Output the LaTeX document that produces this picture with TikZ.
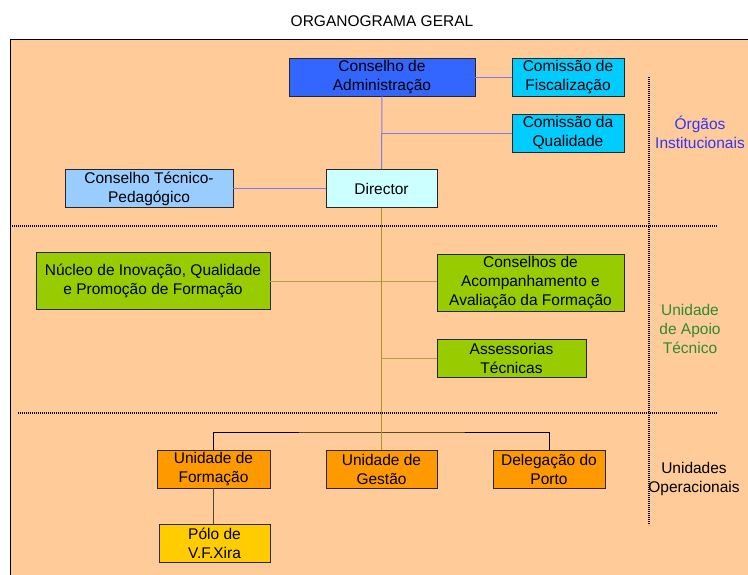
\documentclass[tikz,border=0pt]{standalone}
\usepackage{fontspec}
\setmainfont{Liberation Sans}
\usepackage{tikz}
\usetikzlibrary{positioning}

\definecolor{peach}{HTML}{FFCC99}
\definecolor{admblue}{HTML}{3366FF}
\definecolor{comblue}{HTML}{00CCFF}
\definecolor{ctpblue}{HTML}{99CCFF}
\definecolor{dirblue}{HTML}{CCFFFF}
\definecolor{apoiogreen}{HTML}{99CC00}
\definecolor{unitorange}{HTML}{FF9900}
\definecolor{poloyellow}{HTML}{FFCC00}
\definecolor{bluelink}{HTML}{7B7BF0}
\definecolor{olivelink}{HTML}{A09A20}
\definecolor{tanlink}{HTML}{B8A040}
\definecolor{grouplabelblue}{HTML}{3333FF}
\definecolor{grouplabelgreen}{HTML}{2E8B2E}

\begin{document}
\begin{tikzpicture}[x=1pt, y=-1pt, font=\fontsize{15.5}{19}\selectfont,
    box/.style={draw=black!85, line width=0.8pt, align=center, inner sep=0pt, minimum height=38pt},
    tallbox/.style={box, minimum height=57pt},
    grouplabel/.style={align=center, inner sep=0pt},
    sepline/.style={dash pattern=on 1.2pt off 0.8pt, line width=2pt},
    link/.style={line width=1pt}]

    \clip (0,0) rectangle (748,574);
    \useasboundingbox (0,0) rectangle (748,574);

    %Background
    \node[grouplabel] (title) at (382,21) {ORGANOGRAMA GERAL};
    \draw[fill=peach, line width=0.8pt] (10,39) rectangle (760,590);

    %Separators
    \draw[sepline] (649,77) -- (649,525);
    \draw[sepline] (10,226) -- (717,226);
    \draw[sepline] (18,413) -- (717,413);

    %Nodes
    \node[box, fill=admblue, minimum width=186pt](adm) at (382,77) {Conselho de\\Administração};
    \node[box, fill=comblue, minimum width=112pt](fisc) at (568,77) {Comissão de\\Fiscalização};
    \node[box, fill=comblue, minimum width=112pt](qual) at (568,133) {Comissão da\\Qualidade};
    \node[box, fill=ctpblue, minimum width=168pt](ctp) at (149,188.5) {Conselho Técnico-\\Pedagógico};
    \node[box, fill=dirblue, minimum width=111pt](dir) at (381.5,188.5) {Director};

    \node[tallbox, fill=apoiogreen, minimum width=234pt](nucleo) at (153,281) {Núcleo de Inovação, Qualidade\\e Promoção de Formação};
    \node[tallbox, fill=apoiogreen, minimum width=187pt](acomp) at (530.5,282.5) {Conselhos de\\Acompanhamento e\\Avaliação da Formação};
    \node[box, fill=apoiogreen, minimum width=149pt](assess) at (511.5,358) {Assessorias\\Técnicas};

    \node[box, fill=unitorange, minimum width=113pt](uform) at (213.5,469) {Unidade de\\Formação};
    \node[box, fill=unitorange, minimum width=111pt](ugest) at (381.5,469) {Unidade de\\Gestão};
    \node[box, fill=unitorange, minimum width=112pt](porto) at (549,469) {Delegação do\\Porto};
    \node[box, fill=poloyellow, minimum width=111pt](polo) at (214.5,543) {Pólo de\\V.F.Xira};

    \node[grouplabel, text=grouplabelblue](orgaos) at (700,132) {Órgãos\\Institucionais};
    \node[grouplabel, text=grouplabelgreen](apoio) at (690,329) {Unidade\\de Apoio\\Técnico};
    \node[grouplabel](operac) at (694,479) {Unidades\\Operacionais};

    \coordinate (bus) at (382,432);

    %Lines
    \draw[link, bluelink] (adm.east) -- (fisc.west);
    \draw[link, bluelink] (adm.south) -- (dir.north);
    \draw[link, bluelink] (adm.south |- qual.west) -- (qual.west);
    \draw[link, bluelink] (ctp.east) -- (dir.west);
    \draw[link, tanlink] (nucleo.east) -- (nucleo.east -| acomp.west);
    \draw[link, tanlink] (dir.south |- assess.west) -- (assess.west);
    \draw[link, black] (uform.north) |- (bus) -| (porto.north);
    \draw[link, olivelink] (dir.south) -- (ugest.north);
    \draw[link, black!60!olive] (uform.south) -- (uform.south |- polo.north);

\end{tikzpicture}
\end{document}
